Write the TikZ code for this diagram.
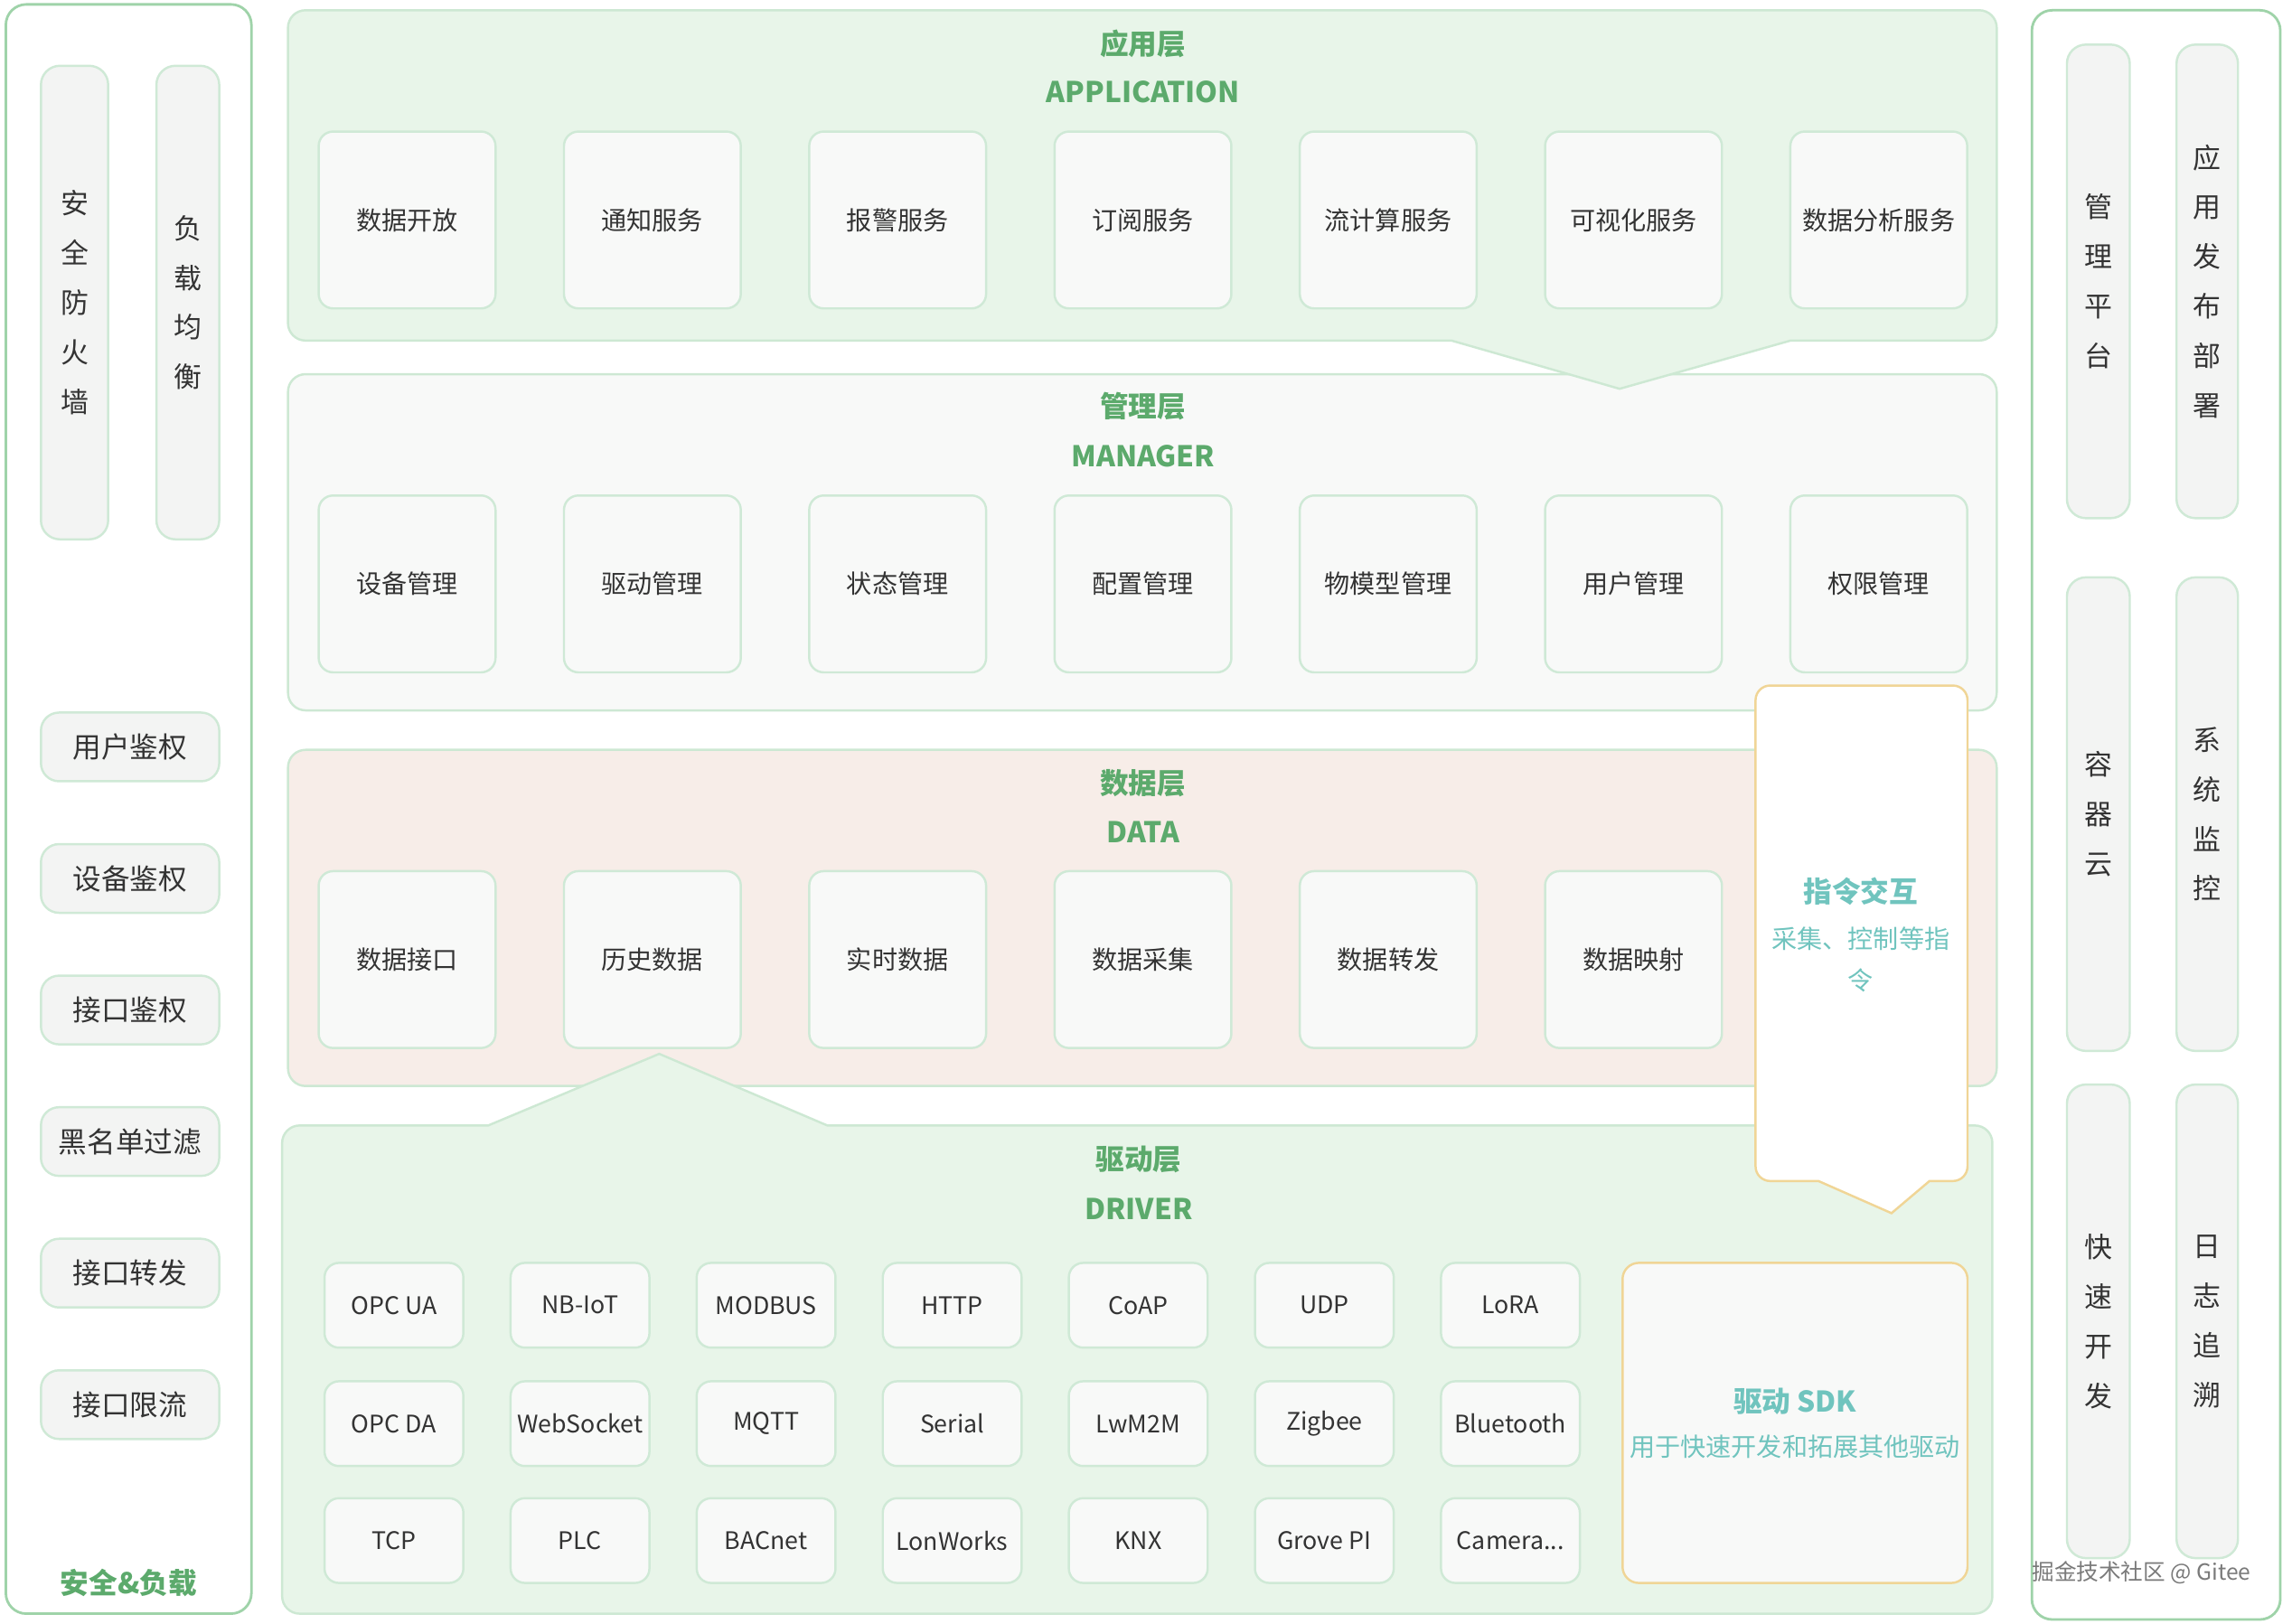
\documentclass[tikz,border=0pt]{standalone}
\usepackage{fontspec}
\setmainfont{Noto Sans CJK SC}
\definecolor{laygreen}{HTML}{E8F5E9}
\definecolor{layline}{HTML}{CDE8D3}
\definecolor{boxfill}{HTML}{F8F9F8}
\definecolor{boxline}{HTML}{CFE9D6}
\definecolor{datafill}{HTML}{F7EDE8}
\definecolor{barfill}{HTML}{F3F4F3}
\definecolor{panelline}{HTML}{9FD3A9}
\definecolor{titlegreen}{HTML}{5CAA6C}
\definecolor{tealtext}{HTML}{70C4BE}
\definecolor{sdkline}{HTML}{F0D596}
\definecolor{txt}{HTML}{333333}
\definecolor{wmark}{HTML}{7A7A7A}
\begin{document}
\begin{tikzpicture}[x=0.016173cm,y=-0.016173cm,
  every node/.style={inner sep=0pt, text=txt},
  panel/.style={draw=panelline, line width=0.8pt, fill=white, rounded corners=0.226cm},
  layer/.style={draw=layline, line width=0.7pt},
  item/.style={draw=boxline, fill=boxfill, line width=0.7pt, rounded corners=0.16cm, minimum width=1.957cm, minimum height=1.957cm, font=\fontsize{8}{10}\selectfont},
  drv/.style={item, minimum width=1.536cm, minimum height=0.938cm, font=\fontsize{7.6}{9}\selectfont},
  bar/.style={draw=boxline, fill=barfill, line width=0.7pt, rounded corners=0.21cm, minimum height=5.24cm, align=center, font=\fontsize{8.8}{15.6}\selectfont},
  btn/.style={draw=boxline, fill=barfill, line width=0.7pt, rounded corners=0.2cm, minimum width=1.973cm, minimum height=0.76cm, font=\fontsize{9}{11}\selectfont},
  ttl/.style={text=titlegreen, font=\bfseries\fontsize{9}{11}\selectfont},
  tealbig/.style={text=tealtext, font=\bfseries\fontsize{9}{11}\selectfont},
  tealsmall/.style={text=tealtext, font=\fontsize{8}{10}\selectfont},
]
\useasboundingbox[fill=white] (0,0) rectangle (1568,1111);

% side panels
\node[panel, minimum width=2.717cm, minimum height=17.807cm] (secpanel) at (88,553.5) {};
\node[panel, minimum width=2.749cm, minimum height=17.807cm] (opspanel) at (1475,557.5) {};

% left bars and buttons
\node[bar, minimum width=0.744cm] (fw) at (51,207) {安\\全\\防\\火\\墙};
\node[bar, minimum width=0.695cm] (lb) at (128.5,207) {负\\载\\均\\衡};
\foreach \t [count=\i from 0] in {用户鉴权,设备鉴权,接口鉴权,黑名单过滤,接口转发,接口限流}
  \node[btn] (sec\i) at (89,{511+90*\i}) {\t};
\node[ttl] (seclabel) at (88,1083) {安全\&负载};

% right bars
\node[bar, minimum width=0.695cm] (mp) at (1435.5,192.5) {管\\理\\平\\台};
\node[bar, minimum width=0.68cm] (ad) at (1510,192.5) {应\\用\\发\\布\\部\\署};
\node[bar, minimum width=0.695cm] (cc) at (1435.5,557) {容\\器\\云};
\node[bar, minimum width=0.68cm] (sm) at (1510,557) {系\\统\\监\\控};
\node[bar, minimum width=0.695cm] (qd) at (1435.5,904) {快\\速\\开\\发};
\node[bar, minimum width=0.68cm] (lt) at (1510,904) {日\\志\\追\\溯};

% layers
\node[layer, fill=boxfill, rounded corners=0.194cm, minimum width=18.906cm, minimum height=3.72cm] (mgr) at (781.5,371) {};
\path[layer, fill=laygreen] (993,233) -- (209,233) arc[start angle=90,end angle=180,radius=12]
  -- (197,19) arc[start angle=180,end angle=270,radius=12]
  -- (1354,7) arc[start angle=270,end angle=360,radius=12]
  -- (1366,221) arc[start angle=0,end angle=90,radius=12]
  -- (1225,233) -- (1108,266) -- cycle;
\node[layer, fill=datafill, rounded corners=0.194cm, minimum width=18.906cm, minimum height=3.72cm] (dat) at (781.5,628) {};
\path[layer, fill=laygreen] (334,770) -- (451,721) -- (566,770)
  -- (1351,770) arc[start angle=270,end angle=360,radius=12]
  -- (1363,1092) arc[start angle=0,end angle=90,radius=12]
  -- (205,1104) arc[start angle=90,end angle=180,radius=12]
  -- (193,782) arc[start angle=180,end angle=270,radius=12] -- cycle;

% titles
\node[ttl] (t1) at (782,30) {应用层};
\node[ttl] (t1e) at (782,63) {APPLICATION};
\node[ttl] (t2) at (782,278) {管理层};
\node[ttl] (t2e) at (782,312) {MANAGER};
\node[ttl] (t3) at (782,536) {数据层};
\node[ttl] (t3e) at (782,569) {DATA};
\node[ttl] (t4) at (779,793) {驱动层};
\node[ttl] (t4e) at (779,827) {DRIVER};

% items
\foreach \t [count=\i from 0] in {数据开放,通知服务,报警服务,订阅服务,流计算服务,可视化服务,数据分析服务}
  \node[item] (app\i) at ({278.5+167.8*\i},150.5) {\t};
\foreach \t [count=\i from 0] in {设备管理,驱动管理,状态管理,配置管理,物模型管理,用户管理,权限管理}
  \node[item] (man\i) at ({278.5+167.8*\i},399.5) {\t};
\foreach \t [count=\i from 0] in {数据接口,历史数据,实时数据,数据采集,数据转发,数据映射}
  \node[item] (dat\i) at ({278.5+167.8*\i},656.5) {\t};
\foreach \t [count=\i from 0] in {OPC UA,NB-IoT,MODBUS,HTTP,CoAP,UDP,LoRA}
  \node[drv] (dra\i) at ({269.5+127.3*\i},893) {\t};
\foreach \t [count=\i from 0] in {OPC DA,WebSocket,MQTT,Serial,LwM2M,Zigbee,Bluetooth}
  \node[drv] (drb\i) at ({269.5+127.3*\i},974) {\t};
\foreach \t [count=\i from 0] in {TCP,PLC,BACnet,LonWorks,KNX,Grove PI}
  \node[drv] (drc\i) at ({269.5+127.3*\i},1054) {\t};
\node[drv] (drc6) at (1033.3,1054) {Camera.{}.{}.};

% SDK
\node[draw=sdkline, fill=boxfill, line width=0.7pt, rounded corners=0.18cm, minimum width=3.817cm, minimum height=3.542cm] (sdk) at (1228,973.5) {};
\node[tealbig] (sdkt) at (1228,959) {驱动 SDK};
\node[tealsmall] (sdks) at (1228,990) {用于快速开发和拓展其他驱动};

% command interaction
\path[draw=sdkline, fill=white, line width=0.7pt] (1244,808) -- (1211,808) arc[start angle=90,end angle=180,radius=10]
  -- (1201,479) arc[start angle=180,end angle=270,radius=10]
  -- (1336,469) arc[start angle=270,end angle=360,radius=10]
  -- (1346,798) arc[start angle=0,end angle=90,radius=10]
  -- (1320,808) -- (1294,830) -- cycle;
\node[tealbig] (cmdt) at (1273,610) {指令交互};
\node[tealsmall] (cmds1) at (1273,642) {采集、控制等指};
\node[tealsmall] (cmds2) at (1273,671) {令};

% watermark
\node[text=wmark, font=\fontsize{7}{9}\selectfont] (wm) at (1465,1076) {掘金技术社区 @ Gitee};
\end{tikzpicture}
\end{document}
